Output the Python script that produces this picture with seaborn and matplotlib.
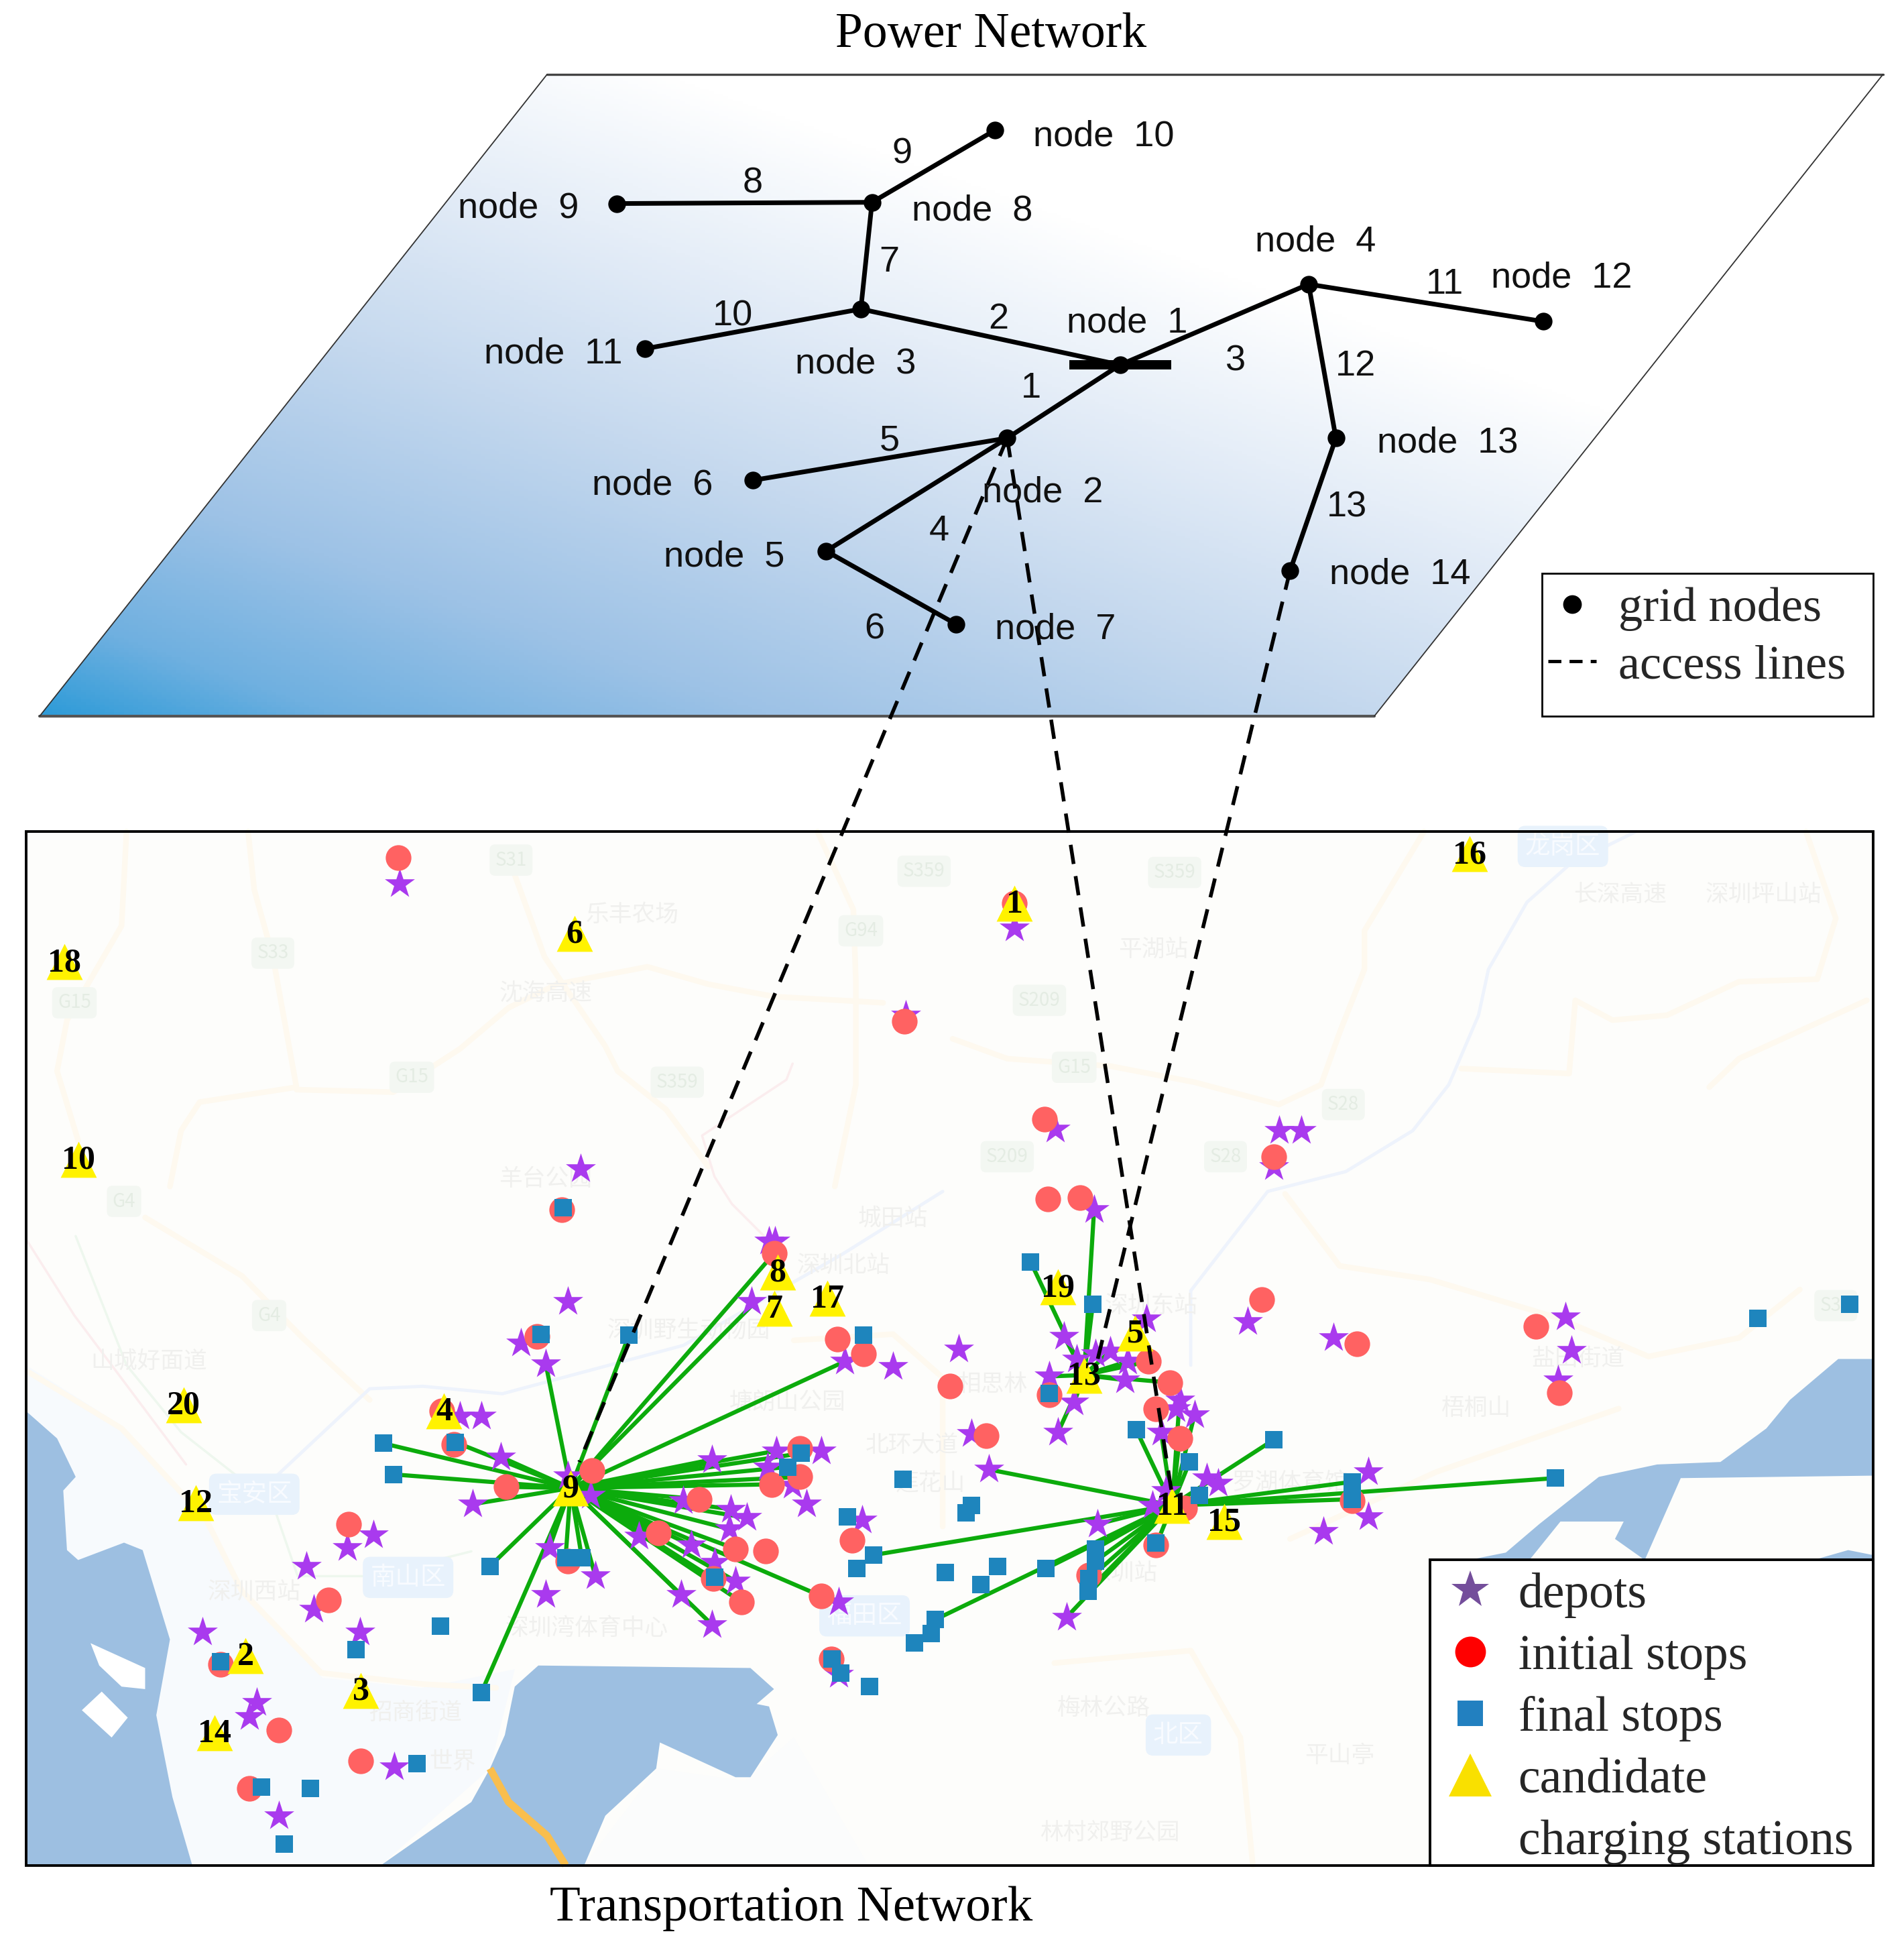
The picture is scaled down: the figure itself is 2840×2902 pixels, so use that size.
import numpy as np, pandas as pd
import matplotlib
matplotlib.use("Agg")
import matplotlib.pyplot as plt
import seaborn as sns
from matplotlib.lines import Line2D
from matplotlib.patches import Polygon, Rectangle
from matplotlib.colors import LinearSegmentedColormap

sns.set_theme(style="white")
plt.rcParams['font.family'] = ['Liberation Sans', 'Noto Sans CJK SC', 'DejaVu Sans']
SERIF = ['Liberation Serif', 'DejaVu Serif']
CJK = ['Noto Sans CJK SC', 'DejaVu Sans']

W, H = 1535, 1568

# ---------- power network ----------
node_ids = list(range(1, 15))
node_x = [903, 812, 694, 1055, 666, 607, 771, 703, 497, 802, 520, 1244, 1077, 1040]
node_y = [294, 353, 249, 229, 444, 387, 503, 163, 164, 105, 281, 259, 353, 460]
node_label_x = [860, 792, 641, 1012, 535, 477, 802, 735, 369, 833, 390, 1202, 1110, 1072]
node_label_y = [260, 397, 293, 195, 449, 391, 507, 170, 168, 110, 285, 224, 357, 463]
branch_from = [1, 1, 1, 2, 2, 5, 3, 8, 8, 3, 4, 4, 13]
branch_to = [2, 3, 4, 5, 6, 7, 8, 9, 10, 11, 12, 13, 14]
branch_label_x = [831, 805, 996, 757, 717, 705, 717, 607, 727, 591, 1165, 1093, 1086]
branch_label_y = [313, 257, 291, 428, 355, 507, 211, 148, 124, 255, 229, 295, 409]
plane_x = [441, 1518, 1108, 32]
plane_y = [60, 60, 577, 577]

# ---------- transport network ----------
depots = [(322,712),(818,748),(730,818),(851,910),(1031,911),(1049,911),(1027,940),(468,942),(882,975),
 (620,1000),(625,1000),(458,1049),(606,1049),(858,1077),(924,1063),(1006,1065),(1262,1061),(1267,1088),
 (1075,1078),(420,1082),(440,1099),(681,1097),(720,1101),(773,1087),(846,1109),(868,1095),(883,1091),
 (895,1089),(909,1097),(907,1112),(866,1130),(853,1154),(388,1141),(371,1141),(404,1174),(381,1212),
 (951,1128),(963,1140),(948,1135),(936,1154),(783,1155),(797,1184),(626,1169),(662,1169),(574,1176),
 (650,1212),(589,1216),(602,1223),(551,1209),(588,1232),(476,1205),(458,1189),(443,1247),(480,1270),
 (440,1285),(515,1238),(557,1245),(576,1259),(593,1274),(549,1285),(574,1309),(676,1291),(695,1225),
 (973,1191),(982,1195),(1103,1186),(1103,1222),(1067,1234),(885,1228),(929,1213),(940,1201),(301,1237),
 (280,1247),(247,1262),(253,1297),(290,1315),(163,1315),(207,1372),(201,1383),(225,1463),(318,1424),
 (860,1303),(1256,1112),(676,1349),(619,1182),(639,1197)]
initial_stops = [(321,691),(729,823),(842,902),(1027,932),(845,966),(871,965),(453,975),(624,1010),(1017,1047),
 (433,1077),(675,1079),(696,1091),(1238,1069),(1094,1083),(1257,1122),(766,1117),(926,1097),(943,1114),
 (932,1135),(846,1124),(951,1159),(795,1157),(645,1167),(645,1190),(622,1196),(477,1185),(408,1198),
 (564,1208),(531,1235),(593,1248),(617,1250),(687,1241),(662,1286),(598,1291),(575,1272),(458,1258),
 (281,1228),(265,1289),(366,1164),(178,1341),(225,1394),(291,1419),(201,1441),(670,1337),(955,1215),
 (1090,1209),(932,1245),(878,1269),(356,1137),(818,728)]
final_stops = [(454,973),(507,1076),(436,1075),(696,1076),(367,1162),(309,1163),(317,1188),(395,1262),(355,1310),
 (287,1329),(178,1339),(388,1364),(336,1421),(250,1441),(211,1440),(229,1486),(456,1255),(469,1255),
 (576,1271),(646,1171),(635,1182),(728,1192),(683,1222),(783,1213),(779,1219),(704,1253),(691,1264),
 (762,1267),(804,1262),(791,1277),(843,1264),(754,1305),(751,1316),(737,1324),(701,1359),(671,1337),
 (678,1348),(831,1017),(881,1051),(846,1123),(916,1152),(1027,1160),(959,1178),(967,1205),(932,1243),
 (883,1248),(883,1258),(878,1272),(877,1282),(1090,1194),(1090,1208),(1254,1191),(1417,1062),(1491,1051)]
station_ids = list(range(1, 21))
station_x = [818, 198, 291, 358, 915, 463, 624, 627, 460, 63, 945, 158, 874, 173, 987, 1185, 667, 52, 853, 148]
station_y = [728, 1334, 1362, 1137, 1074, 752, 1054, 1025, 1199, 934, 1213, 1211, 1108, 1396, 1226, 688, 1046, 775, 1037, 1132]

hub9_targets = [(440,1099),(507,1076),(624,1010),(606,1052),(681,1097),(626,1169),(646,1171),(635,1182),(645,1190),
 (622,1196),(574,1176),(564,1208),(589,1216),(602,1223),(588,1232),(531,1235),(557,1245),(593,1248),(575,1272),
 (593,1274),(549,1285),(574,1309),(662,1286),(598,1291),(367,1162),(404,1174),(309,1163),(317,1188),(381,1212),
 (408,1198),(395,1262),(388,1364),(456,1255),(469,1255),(443,1247),(480,1270)]
hub11_targets = [(797,1184),(704,1253),(843,1264),(754,1305),(877,1282),(878,1272),(883,1258),(883,1248),(885,1228),
 (932,1245),(916,1152),(936,1154),(951,1159),(951,1128),(963,1140),(1027,1160),(1090,1194),(1090,1208),(1254,1191),
 (959,1178),(967,1205),(860,1303)]
hub13_targets = [(882,975),(831,1017),(858,1077),(881,1051),(853,1154),(866,1130),(846,1109),(926,1097),(943,1114),
 (895,1089),(909,1097),(907,1112)]
access_from = [2, 2, 14]
access_to = [(467,1178),(945,1205),(885,1095)]

# ---------- base map ----------
sea_left = [(21,1137),(46,1159),(61,1190),(51,1201),(54,1249),(63,1257),(100,1243),(115,1249),(137,1321),(126,1382),(139,1448),(155,1503),(21,1503)]
sea_bay = [(307,1503),(380,1452),(395,1425),(407,1398),(415,1359),(434,1342),(605,1344),(624,1361),(610,1373),(620,1375),(627,1398),(605,1432),(593,1432),(532,1404),(529,1425),(488,1463),(471,1503)]
sea_right = [(1510,1095),(1482,1095),(1443,1128),(1424,1151),(1387,1178),(1336,1180),(1289,1190),(1241,1228),(1214,1251),(1184,1257),(1233,1257),(1258,1226),(1309,1226),(1302,1240),(1326,1257),(1355,1191),(1510,1189)]
sea_small = [(1462,1257),(1490,1249),(1510,1253),(1510,1257)]
islands = [[(73,1324),(117,1344),(117,1361),(98,1359),(80,1342)], [(66,1378),(82,1363),(103,1384),(90,1400)]]
pale_land = [[(21,1100),(100,1150),(170,1230),(200,1290),(260,1352),(340,1360),(415,1345),(395,1425),(307,1503),(155,1503),(21,1503)],
             [(471,1503),(530,1425),(600,1435),(640,1400),(700,1503)]]
bridge = [(395,1425),(410,1452),(441,1479),(456,1503)]
roads = [[(102,670),(98,746),(54,822),(46,863),(63,919)],
 [(200,670),(205,717),(220,771),(239,876),(161,888),(146,911),(137,956)],
 [(239,878),(317,880),(371,845),(410,812),(449,793),(522,779),(571,793),(624,803),(712,808)],
 [(415,705),(439,771),(488,843),(498,863),(537,894),(571,940)],
 [(659,670),(688,733),(690,791),(690,874),(673,956)],
 [(1456,670),(1480,740),(1465,789),(1402,791),(1344,818),(1300,822),(1270,806),(1265,865),(1178,861)],
 [(1148,670),(1100,750),(1100,781),(1080,832),(1065,874),(1031,890),(963,872),(895,859),(812,853),(768,837)],
 [(1505,806),(1402,853),(1378,876)],
 [(117,981),(195,1028),(244,1078),(298,1128)],
 [(22,1105),(98,1151),(166,1224),(195,1282),(259,1348),(341,1357),(400,1360)],
 [(1036,962),(1080,1020),(1153,1031),(1256,1062),(1329,1093),(1402,1078),(1451,1039)],
 [(1305,1135),(1158,1186),(1040,1240)],
 [(640,1080),(720,1075),(760,1110),(760,1230)],
 [(850,1340),(960,1330),(1000,1400),(1010,1503)]]
rail_pink = [[(639,857),(634,870),(566,915),(576,948),(590,970),(620,1000)], [(22,1000),(60,1060),(150,1180)]]
rail_blue = [[(1319,670),(1266,696),(1231,727),(1200,781),(1192,818),(1168,874),(1139,911),(1085,944),(1022,960),(960,1040),(960,1100)],
 [(220,1192),(298,1119),(341,1117),(405,1123),(551,1084),(680,1010),(760,960)]]
rail_green = [[(61,996),(102,1100),(146,1154),(220,1212),(240,1270),(300,1270),(380,1250)]]
shield_names = ['S31','S33','G94','G15','G15','S209','G15','S28','S28','S209','G4','G4','S359','S359','S359','S30']
shield_x = [412,220,694,60,332,838,866,1083,988,812,100,217,745,947,546,1480]
shield_y = [693,768,750,808,868,806,860,890,932,932,968,1060,702,703,872,1052]
place_names = ['山城好面道','深圳西站','深圳湾体育中心','招商街道','世界','相思林','深圳东站','盐田街道','梧桐山','林村郊野公园','平湖站','长深高速','深圳坪山站','沈海高速','乐丰农场','羊台公园','城田站','深圳野生动物园','塘朗山公园','莲花山','深圳站','罗湖体育馆','梅林公路','平山亭','深圳北站','北环大道']
place_x = [120,205,473,335,365,800,928,1272,1190,895,930,1306,1422,440,510,440,720,555,635,750,905,1040,890,1080,680,735]
place_y = [1097,1283,1312,1380,1420,1116,1052,1095,1135,1477,765,721,721,800,737,950,982,1072,1130,1195,1268,1195,1377,1415,1020,1165]
district_names = ['南山区','宝安区','福田区','龙岗区','北区']
district_x = [329,205,697,1260,950]
district_y = [1271,1204,1302,682,1398]

fig = plt.figure(figsize=(28.4, 29.02), dpi=100, facecolor='white')
ax = fig.add_axes([0, 0, 1, 1])
ax.set_axis_off()

# power plane with gradient
gx, gy = np.meshgrid(np.linspace(0, W, 400), np.linspace(0, 600, 300))
t = np.clip((gx - 32) * 0.00051 + (577 - gy) * 0.00143, 0, 1)
cmap = LinearSegmentedColormap.from_list('plane', [(0, '#2E9BD8'), (0.12, '#6FB0E0'), (0.3, '#9DC2E6'),
                                                   (0.55, '#C4D8EE'), (0.8, '#E6EEF8'), (1, '#FFFFFF')])
im = ax.imshow(t, extent=(0, W, 600, 0), cmap=cmap, vmin=0, vmax=1, aspect='auto', zorder=1)
plane = Polygon(np.column_stack([plane_x, plane_y]), closed=True, fc='none', ec='none', transform=ax.transData)
ax.add_patch(plane)
im.set_clip_path(plane)
ax.plot(plane_x[:2], plane_y[:2], color='#444444', lw=2.4, zorder=2)
ax.plot(plane_x[2:], plane_y[2:], color='#555555', lw=3, zorder=2)
ax.plot([plane_x[1], plane_x[2]], [plane_y[1], plane_y[2]], color='#333333', lw=1.3, zorder=2)
ax.plot([plane_x[3], plane_x[0]], [plane_y[3], plane_y[0]], color='#333333', lw=1.3, zorder=2)

# branches
branch_df = pd.DataFrame({
    'x': [node_x[i - 1] for p in zip(branch_from, branch_to) for i in p],
    'y': [node_y[i - 1] for p in zip(branch_from, branch_to) for i in p],
    'branch': np.repeat(np.arange(len(branch_from)), 2)})
sns.lineplot(data=branch_df, x='x', y='y', units='branch', estimator=None, sort=False, color='black', lw=5, ax=ax, zorder=3, legend=False)
ax.plot([862, 944], [node_y[0], node_y[0]], color='black', lw=10, solid_capstyle='butt', zorder=3)
sns.scatterplot(x=node_x, y=node_y, color='black', s=360, linewidth=0, ax=ax, zorder=4, legend=False)
for i, n in enumerate(node_ids):
    ax.text(node_label_x[i], node_label_y[i], f'node  {n}', fontsize=39, color='#111111', ha='left', va='center', zorder=8)
for i in range(len(branch_from)):
    ax.text(branch_label_x[i], branch_label_y[i], str(i + 1), fontsize=39, color='#111111', ha='center', va='center', zorder=8)
ax.text(799, 28, 'Power Network', family=SERIF, fontsize=53, color='black', ha='center', va='center')

# map
ax.add_patch(Rectangle((21, 670), 1489, 833, fc='#FDFDFB', ec='none', zorder=1))
for k, poly in enumerate(pale_land):
    ax.add_patch(Polygon(poly, fc='#F7FAFD' if k == 0 else '#FBFCFC', ec='none', zorder=1.05))
for r in roads:
    a = np.array(r); ax.plot(a[:, 0], a[:, 1], color='#FEF9EF', lw=6, zorder=1.1, solid_joinstyle='round')
for r in rail_pink:
    a = np.array(r); ax.plot(a[:, 0], a[:, 1], color='#FBEDEE', lw=2.5, zorder=1.1)
for r in rail_blue:
    a = np.array(r); ax.plot(a[:, 0], a[:, 1], color='#EEF3FC', lw=3.5, zorder=1.1)
for r in rail_green:
    a = np.array(r); ax.plot(a[:, 0], a[:, 1], color='#EEF7EE', lw=2.5, zorder=1.1)
for poly in (sea_left, sea_bay, sea_right, sea_small):
    ax.add_patch(Polygon(poly, fc='#9DBFE1', ec='none', zorder=1.2))
for poly in islands:
    ax.add_patch(Polygon(poly, fc='white', ec='none', zorder=1.25))
a = np.array(bridge); ax.plot(a[:, 0], a[:, 1], color='#F9BE4E', lw=8, zorder=1.3, solid_capstyle='butt')
for name, x, y in zip(shield_names, shield_x, shield_y):
    ax.text(x, y, name, family=CJK, fontsize=20, color='#E4ECE3', ha='center', va='center', zorder=1.3,
            bbox=dict(boxstyle='round,pad=0.3', fc='#F3F7F2', ec='none'))
for name, x, y in zip(place_names, place_x, place_y):
    ax.text(x, y, name, family=CJK, fontsize=25, color='#F0F0EE', ha='center', va='center', zorder=1.3)
for name, x, y in zip(district_names, district_x, district_y):
    ax.text(x, y, name, family=CJK, fontsize=27, color='#F8FBFF', ha='center', va='center', zorder=1.3,
            bbox=dict(boxstyle='round,pad=0.3', fc='#E8F2FC', ec='none'))

# links
def links(hub, targets, start):
    rows = []
    for k, (x, y) in enumerate(targets):
        rows += [(hub[0], hub[1], start + k), (x, y, start + k)]
    return rows
rows = links((station_x[8], station_y[8]), hub9_targets, 0) + links((station_x[10], station_y[10]), hub11_targets, 100) + links((station_x[12], station_y[12]), hub13_targets, 200)
link_df = pd.DataFrame(rows, columns=['x', 'y', 'link'])
sns.lineplot(data=link_df, x='x', y='y', units='link', estimator=None, sort=False, color='#0CAB0C', lw=4.5, ax=ax, zorder=2, legend=False)

d = np.array(depots); r = np.array(initial_stops); f = np.array(final_stops)
sns.scatterplot(x=d[:, 0], y=d[:, 1], marker='*', s=1150, color='#A93AEE', linewidth=0, ax=ax, zorder=3, legend=False)
sns.scatterplot(x=r[:, 0], y=r[:, 1], marker='o', s=760, color='#FF6262', linewidth=0, ax=ax, zorder=3.1, legend=False)
sns.scatterplot(x=f[:, 0], y=f[:, 1], marker='s', s=370, color='#1E85BD', linewidth=0, ax=ax, zorder=3.2, legend=False)
sns.scatterplot(x=station_x, y=station_y, marker='^', s=1500, color='#FFF200', linewidth=0, ax=ax, zorder=3.3, legend=False)
for i, n in enumerate(station_ids):
    ax.text(station_x[i], station_y[i] + 1, str(n), family=SERIF, weight='bold', fontsize=36, color='black', ha='center', va='center', zorder=3.5)

# access lines
for src, (tx, ty) in zip(access_from, access_to):
    ax.plot([node_x[src - 1], tx], [node_y[src - 1], ty], color='black', lw=4, dashes=(5.2, 3.3), zorder=3.6)

# map frame
ax.add_patch(Rectangle((21, 670), 1489, 833, fc='none', ec='black', lw=2.8, zorder=5))
ax.text(638, 1538, 'Transportation Network', family=SERIF, fontsize=54, color='black', ha='center', va='center')

# legends
ax.add_patch(Rectangle((1243, 462), 267, 115, fc='white', ec='black', lw=2, zorder=6))
h1 = [Line2D([], [], color='black', marker='o', ls='none', ms=19),
      Line2D([], [], color='black', ls=(0, (4, 2.5)), lw=3.5)]
leg1 = ax.legend(h1, ['grid nodes', 'access lines'], loc='upper left', bbox_to_anchor=(1248, 473), bbox_transform=ax.transData,
                 frameon=False, borderaxespad=0, borderpad=0, handlelength=1.0, handletextpad=0.45, labelspacing=0.27,
                 prop={'family': SERIF, 'size': 52})
leg1.set_zorder(7)
ax.add_artist(leg1)
ax.add_patch(Rectangle((1153, 1257), 357, 246, fc='white', ec='black', lw=2.8, zorder=6))
h2 = [Line2D([], [], color='#744E9B', marker='*', ls='none', ms=42, mew=0),
      Line2D([], [], color='#FF0000', marker='o', ls='none', ms=33, mew=0),
      Line2D([], [], color='#2280C0', marker='s', ls='none', ms=27, mew=0),
      Line2D([], [], color='#F9E000', marker='^', ls='none', ms=46, mew=0),
      Line2D([], [], ls='none')]
leg2 = ax.legend(h2, ['depots', 'initial stops', 'final stops', 'candidate', 'charging stations'], loc='upper left',
                 bbox_to_anchor=(1162, 1267), bbox_transform=ax.transData, frameon=False, borderaxespad=0, borderpad=0,
                 handlelength=1.18, handletextpad=0.38, labelspacing=0.33, prop={'family': SERIF, 'size': 53})
leg2.set_zorder(7)

ax.set_xlim(0, W)
ax.set_ylim(H, 0)
fig.savefig('out.png', dpi=100, facecolor='white')
